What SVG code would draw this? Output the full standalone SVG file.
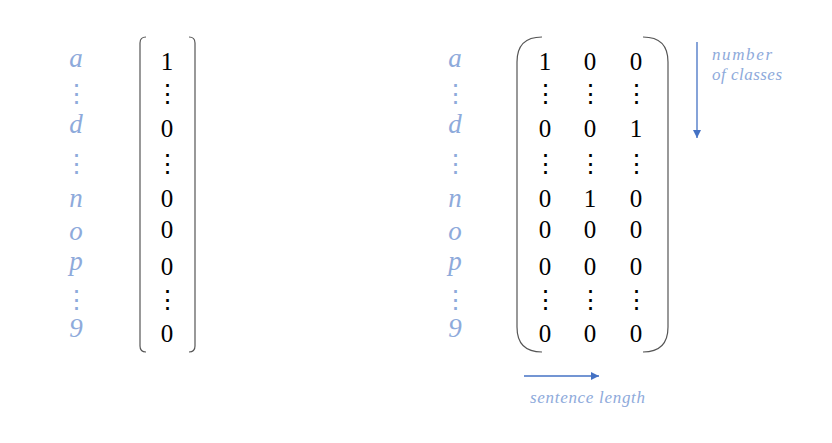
<svg xmlns="http://www.w3.org/2000/svg" width="832" height="443" viewBox="0 0 832 443">
<defs>
<style>
.lbl{font-family:"Liberation Serif","DejaVu Serif",serif;font-style:italic;font-size:27px;fill:#8EAADB;text-anchor:middle}
.num{font-family:"Liberation Serif","DejaVu Serif",serif;font-size:25px;fill:#000;text-anchor:middle}
.dots{font-family:"DejaVu Serif",serif;font-size:25px;text-anchor:middle}
.cap{font-family:"Liberation Serif","DejaVu Serif",serif;font-style:italic;font-size:17px;fill:#8EAADB}
.br{fill:none;stroke:#555;stroke-width:1.2}
.arr{stroke:#4472C4;stroke-width:1.3;fill:none}
</style>
<marker id="ah" viewBox="0 0 10 10" refX="10" refY="5" markerWidth="8" markerHeight="8" markerUnits="userSpaceOnUse" orient="auto">
<path d="M0,0 L10,5 L0,10 z" fill="#4472C4"/>
</marker>
</defs>

<g id="labels-left">
<text class="lbl" x="76" y="67">a</text>
<text class="dots" x="76" y="102" fill="#8EAADB">⋮</text>
<text class="lbl" x="76" y="133">d</text>
<text class="dots" x="76" y="172" fill="#8EAADB">⋮</text>
<text class="lbl" x="76" y="207">n</text>
<text class="lbl" x="76" y="240">o</text>
<text class="lbl" x="76" y="270">p</text>
<text class="dots" x="76" y="308" fill="#8EAADB">⋮</text>
<text class="lbl" x="76" y="337">9</text>
</g>

<g id="vector">
<path class="br" d="M146,37 Q140,37 140,43 L140,346 Q140,352 146,352"/>
<path class="br" d="M189,37 Q195,37 195,43 L195,346 Q195,352 189,352"/>
<text class="num" x="167" y="70">1</text>
<text class="dots" x="167" y="102">⋮</text>
<text class="num" x="167" y="137">0</text>
<text class="dots" x="167" y="172">⋮</text>
<text class="num" x="167" y="207">0</text>
<text class="num" x="167" y="238">0</text>
<text class="num" x="167" y="275">0</text>
<text class="dots" x="167" y="308">⋮</text>
<text class="num" x="167" y="342">0</text>
</g>

<g id="labels-right">
<text class="lbl" x="455" y="67">a</text>
<text class="dots" x="455" y="102" fill="#8EAADB">⋮</text>
<text class="lbl" x="455" y="133">d</text>
<text class="dots" x="455" y="172" fill="#8EAADB">⋮</text>
<text class="lbl" x="455" y="207">n</text>
<text class="lbl" x="455" y="240">o</text>
<text class="lbl" x="455" y="270">p</text>
<text class="dots" x="455" y="308" fill="#8EAADB">⋮</text>
<text class="lbl" x="455" y="337">9</text>
</g>

<g id="matrix">
<path class="br" d="M542,37 Q517,37 517,62 L517,327 Q517,352 542,352"/>
<path class="br" d="M643,37 Q668,37 668,62 L668,327 Q668,352 643,352"/>
<g class="num">
<text x="545" y="70">1</text><text x="590" y="70">0</text><text x="636" y="70">0</text>
<text x="545" y="137">0</text><text x="590" y="137">0</text><text x="636" y="137">1</text>
<text x="545" y="207">0</text><text x="590" y="207">1</text><text x="636" y="207">0</text>
<text x="545" y="238">0</text><text x="590" y="238">0</text><text x="636" y="238">0</text>
<text x="545" y="275">0</text><text x="590" y="275">0</text><text x="636" y="275">0</text>
<text x="545" y="342">0</text><text x="590" y="342">0</text><text x="636" y="342">0</text>
</g>
<g class="dots">
<text x="545" y="102">⋮</text><text x="590" y="102">⋮</text><text x="636" y="102">⋮</text>
<text x="545" y="172">⋮</text><text x="590" y="172">⋮</text><text x="636" y="172">⋮</text>
<text x="545" y="308">⋮</text><text x="590" y="308">⋮</text><text x="636" y="308">⋮</text>
</g>
</g>

<g id="connectors">
<line class="arr" x1="697" y1="42" x2="697" y2="138" marker-end="url(#ah)"/>
<line class="arr" x1="524" y1="376" x2="599" y2="376" marker-end="url(#ah)"/>
</g>

<g id="captions">
<text class="cap" x="712" y="60" textLength="60">number</text>
<text class="cap" x="712" y="80" textLength="70">of classes</text>
<text class="cap" x="530" y="403" textLength="115">sentence length</text>
</g>
</svg>
